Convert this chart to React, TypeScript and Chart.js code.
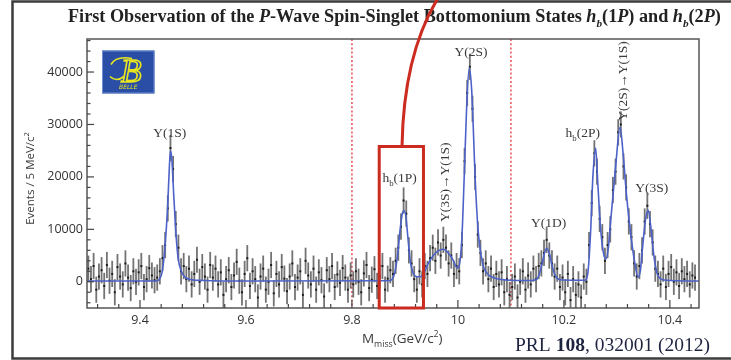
import { useEffect, useRef } from 'react';
import { Chart, registerables } from 'chart.js';

Chart.register(...registerables);

// ---- data (events per 5 MeV bin, in thousands) ----
const BIN_START = 9.3025; // GeV/c^2, centre of first bin
const BIN_WIDTH = 0.005;  // 5 MeV bins
const EVENTS_K = [
  2.5, 0.5, 3.0, -1.5, 1.0, 2.2, -0.8, 3.2, 0.2, 1.5,
  -2.0, 2.8, 1.0, -0.5, 3.5, 0.8, -1.2, 2.0, 0.0, 1.8,
  3.0, -1.0, 0.5, 2.6, 1.2, 0.3, 0.8, 2.0, 4.5, 7.0,
  14.0, 25.5, 21.5, 11.0, 6.5, 2.0, 3.0, 0.5, 2.5, -0.5,
  1.5, 4.2, 0.0, 2.8, 1.0, -1.5, 3.2, 0.8, 2.5, -0.5,
  1.8, -2.5, 0.5, 2.2, -1.0, 1.2, 3.8, 0.2, -2.0, 1.5,
  4.5, -0.8, 2.0, 0.5, -3.0, 1.0, 2.5, -1.5, 0.0, 3.2,
  -2.2, 1.5, -0.5, 2.8, 0.6, -1.8, 1.0, 3.5, -1.0, 0.8,
  2.0, -2.5, 4.0, 1.2, -0.5, 2.5, -1.5, 1.8, 0.3, -2.8,
  2.2, 0.5, 3.0, -1.0, 1.4, -0.2, 2.6, 0.8, -1.5, 1.2,
  -0.5, 2.0, 0.0, -2.0, 1.6, 3.2, -1.2, 0.4, 2.4, -0.8,
  1.0, 3.0, -1.5, 0.6, 2.2, 1.5, 4.0, 6.5, 10.5, 15.5,
  13.0, 6.0, 3.5, 0.5, -1.5, 2.0, -0.5, 3.0, 1.5, 4.5,
  6.5, 4.0, 7.5, 5.0, 8.0, 6.5, 3.5, 5.0, 1.5, 3.0,
  2.0, 7.0, 23.0, 36.0, 41.0, 33.0, 20.0, 9.0, 5.5, 2.0,
  3.5, 0.5, 2.5, -1.0, 1.5, -0.5, 1.8, -2.0, 0.5, -2.5,
  -1.0, 1.0, -3.0, 0.0, 2.0, -1.5, 1.2, -0.5, 2.5, 0.5,
  3.0, 3.5, 5.5, 8.0, 5.0, 3.5, 1.0, 2.5, -1.0, 0.8,
  -2.0, 1.5, -3.5, 0.5, -2.5, -0.5, -3.0, 1.0, 0.0, 7.0,
  15.0, 24.5, 21.0, 12.0, 8.5, 4.0, 7.0, 10.0, 17.5, 21.0,
  28.5, 30.0, 22.0, 18.0, 11.5, 8.5, 3.5, 1.0, 3.0, 6.0,
  11.5, 14.5, 11.0, 7.5, 2.5, 1.5, -0.5, 2.5, -1.0, 1.5,
  2.8, 0.0, 1.8, -0.8, 2.0, 0.5, 1.5, -0.5, 1.2, 0.8,
];
const ERROR_K = 2.5; // statistical error bar half-length, thousands

// fit curve
const FIT_MASS = [
  9.300, 9.430, 9.437, 9.442, 9.447, 9.452, 9.4555, 9.4575, 9.460, 9.464,
  9.468, 9.472, 9.478, 9.485, 9.495, 9.520, 9.600, 9.870, 9.876, 9.881,
  9.886, 9.891, 9.8955, 9.8985, 9.902, 9.906, 9.910, 9.915, 9.921, 9.929,
  9.937, 9.944, 9.957, 9.973, 9.989, 9.9995, 10.004, 10.0076, 10.0119, 10.017,
  10.0215, 10.026, 10.033, 10.038, 10.0466, 10.055, 10.0706, 10.090, 10.140, 10.149,
  10.154, 10.159, 10.1635, 10.168, 10.1725, 10.177, 10.182, 10.187, 10.197, 10.240,
  10.245, 10.2503, 10.2547, 10.260, 10.264, 10.269, 10.2745, 10.279, 10.284, 10.288,
  10.2977, 10.306, 10.3122, 10.3185, 10.326, 10.334, 10.340, 10.3445, 10.348, 10.354,
  10.359, 10.364, 10.370, 10.377, 10.389, 10.455,
];
const FIT_EVENTS_K = [
  0.15, 0.15, 0.5, 2.0, 6.5, 14.0, 22.0, 25.0, 23.5, 16.0,
  9.0, 4.5, 2.0, 0.9, 0.45, 0.25, 0.15, 0.2, 0.5, 1.8,
  5.0, 10.0, 13.2, 13.6, 12.3, 8.0, 4.0, 1.8, 1.0, 0.95,
  1.9, 3.5, 5.4, 6.2, 4.5, 2.6, 4.0, 8.6, 20.0, 34.7,
  40.8, 36.5, 18.8, 10.0, 3.5, 1.6, 0.65, 0.35, 0.25, 0.5,
  1.6, 3.5, 5.5, 6.4, 5.4, 3.4, 1.6, 0.7, 0.35, 0.3,
  1.5, 9.2, 20.0, 25.5, 18.8, 10.5, 5.6, 4.3, 6.5, 11.2,
  22.0, 29.5, 23.9, 16.2, 9.2, 3.5, 0.9, 2.2, 6.0, 11.8,
  13.7, 10.5, 4.8, 1.3, 0.35, 0.15,
];

const X_MIN = 9.3;
const X_MAX = 10.455;
const Y_MIN = -5000;
const Y_MAX = 46300;
const X_TICKS = [9.4, 9.6, 9.8, 10.0, 10.2, 10.4];
const X_TICK_LABELS = ['9.4', '9.6', '9.8', '10', '10.2', '10.4'];
const Y_TICKS = [0, 10000, 20000, 30000, 40000];
const Y_TICK_LABELS = ['0', '10000', '20000', '30000', '40000'];

const WINDOW_LINES = [9.8, 10.1];
const HB1P_BOX = { x0: 9.8515, x1: 9.935, yTop: 25800, anchor: 9.8945 };

const LABEL_TEXT = ['Υ(1S)', 'h_b(1P)', 'Υ(3S)→Υ(1S)', 'Υ(2S)', 'Υ(1D)', 'h_b(2P)', 'Υ(2S)→Υ(1S)', 'Υ(3S)'];
const LABEL_MASS = [9.456, 9.890, 9.974, 10.0246, 10.171, 10.2356, 10.310, 10.366];
const LABEL_EVENTS = [28500, 19800, 19000, 43900, 11300, 28500, 38300, 18000];
const LABEL_VERTICAL = [false, false, true, false, false, false, true, false];

const TITLE_PARTS: [string, string][] = [
  ['First Observation of the ', 'b'], ['P', 'bi'], ['-Wave Spin-Singlet Bottomonium States ', 'b'],
  ['h', 'bi'], ['b', 'sub'], ['(1', 'b'], ['P', 'bi'], [') and ', 'b'],
  ['h', 'bi'], ['b', 'sub'], ['(2', 'b'], ['P', 'bi'], [')', 'b'],
];
const REF_PARTS: [string, string][] = [['PRL ', 'n'], ['108', 'b'], [', 032001 (2012)', 'n']];

// ---- rich text helpers ----
type Seg = { t: string; m: 'n' | 'sub' | 'sup' };
function parseRich(s: string): Seg[] {
  const segs: Seg[] = [];
  let buf = '';
  let i = 0;
  while (i < s.length) {
    const c = s[i];
    if (c === '_' || c === '^') {
      if (buf) { segs.push({ t: buf, m: 'n' }); buf = ''; }
      let t = '';
      if (s[i + 1] === '{') { const j = s.indexOf('}', i + 2); t = s.slice(i + 2, j); i = j + 1; }
      else { t = s[i + 1]; i += 2; }
      segs.push({ t, m: c === '_' ? 'sub' : 'sup' });
    } else { buf += c; i++; }
  }
  if (buf) segs.push({ t: buf, m: 'n' });
  return segs;
}

function drawRich(ctx: CanvasRenderingContext2D, s: string, x: number, base: number,
  o: { size: number; family: string; color: string; align: 'left' | 'center' | 'right' }) {
  const segs = parseRich(s);
  const fontFor = (m: string) => `${m === 'n' ? o.size : o.size * 0.65}px ${o.family}`;
  let total = 0;
  const widths = segs.map((sg) => { ctx.font = fontFor(sg.m); const w = ctx.measureText(sg.t).width; total += w; return w; });
  let cx = o.align === 'center' ? x - total / 2 : o.align === 'right' ? x - total : x;
  ctx.fillStyle = o.color;
  ctx.textAlign = 'left';
  ctx.textBaseline = 'alphabetic';
  segs.forEach((sg, k) => {
    ctx.font = fontFor(sg.m);
    const dy = sg.m === 'sub' ? o.size * 0.28 : sg.m === 'sup' ? -o.size * 0.42 : 0;
    ctx.fillText(sg.t, cx, base + dy);
    cx += widths[k];
  });
}

function drawParts(ctx: CanvasRenderingContext2D, parts: [string, string][], x0: number, x1: number, base: number,
  family: string, refSize: number, color: string) {
  const fontFor = (st: string, size: number) => {
    if (st === 'b') return `bold ${size}px ${family}`;
    if (st === 'bi') return `italic bold ${size}px ${family}`;
    if (st === 'sub') return `italic bold ${size * 0.62}px ${family}`;
    return `${size}px ${family}`;
  };
  const measure = (size: number) => parts.reduce((acc, [t, st]) => { ctx.font = fontFor(st, size); return acc + ctx.measureText(t).width; }, 0);
  const size = refSize * (x1 - x0) / measure(refSize);
  let cx = x0;
  ctx.fillStyle = color;
  ctx.textAlign = 'left';
  ctx.textBaseline = 'alphabetic';
  parts.forEach(([t, st]) => {
    ctx.font = fontFor(st, size);
    ctx.fillText(t, cx, base + (st === 'sub' ? size * 0.25 : 0));
    cx += ctx.measureText(t).width;
  });
}

const decorPlugin = {
  id: 'decor',
  beforeDatasetsDraw(chart: any) {
    const { ctx, chartArea: a, scales: { x, y } } = chart;
    ctx.save();
    // signal window dotted lines
    ctx.strokeStyle = '#e8585c';
    ctx.lineWidth = 1.6;
    ctx.setLineDash([2, 2.2]);
    WINDOW_LINES.forEach((m) => {
      const px = x.getPixelForValue(m);
      ctx.beginPath(); ctx.moveTo(px, a.top); ctx.lineTo(px, a.bottom); ctx.stroke();
    });
    ctx.setLineDash([]);
    // error bars
    ctx.strokeStyle = 'rgba(80,80,80,0.8)';
    ctx.lineWidth = 1.8;
    EVENTS_K.forEach((v, i) => {
      const px = x.getPixelForValue(BIN_START + i * BIN_WIDTH);
      const t = Math.max(y.getPixelForValue((v + ERROR_K) * 1000), a.top);
      const b = Math.min(y.getPixelForValue((v - ERROR_K) * 1000), a.bottom);
      ctx.beginPath(); ctx.moveTo(px, t); ctx.lineTo(px, b); ctx.stroke();
    });
    ctx.restore();
  },
  afterDatasetsDraw(chart: any) {
    const { ctx, chartArea: a, scales: { x, y } } = chart;
    ctx.save();
    // frame
    ctx.strokeStyle = '#555';
    ctx.lineWidth = 1.5;
    ctx.strokeRect(a.left, a.top, a.right - a.left, a.bottom - a.top);
    // ticks
    ctx.lineWidth = 1.2;
    ctx.strokeStyle = '#444';
    for (let k = 0; ; k++) {
      const v = 9.32 + k * 0.04;
      if (v > X_MAX) break;
      const major = X_TICKS.some((t) => Math.abs(t - v) < 1e-6);
      const px = x.getPixelForValue(v);
      ctx.beginPath(); ctx.moveTo(px, a.bottom); ctx.lineTo(px, a.bottom - (major ? 8 : 4)); ctx.stroke();
    }
    for (let k = 0; ; k++) {
      const v = -4000 + k * 2000;
      if (v > Y_MAX) break;
      const major = Y_TICKS.includes(v);
      const py = y.getPixelForValue(v);
      ctx.beginPath(); ctx.moveTo(a.left, py); ctx.lineTo(a.left + (major ? 7 : 3.5), py); ctx.stroke();
    }
    // peak labels
    const lsize = 13.5;
    LABEL_TEXT.forEach((t, i) => {
      const px = x.getPixelForValue(LABEL_MASS[i]);
      const py = y.getPixelForValue(LABEL_EVENTS[i]);
      const opts = { size: lsize, family: '"Liberation Serif", serif', color: '#3a3a3a', align: 'center' as const };
      if (LABEL_VERTICAL[i]) {
        ctx.save(); ctx.translate(px, py); ctx.rotate(-Math.PI / 2);
        drawRich(ctx, t, 0, lsize * 0.33, opts);
        ctx.restore();
      } else {
        drawRich(ctx, t, px, py + lsize * 0.33, opts);
      }
    });
    // axis titles
    ctx.save();
    ctx.translate(30, (a.top + a.bottom) / 2 + 5);
    ctx.rotate(-Math.PI / 2);
    drawRich(ctx, 'Events / 5 MeV/c^2', 0, 4, { size: 11.5, family: '"Open Sans", sans-serif', color: '#3a3a3a', align: 'center' });
    ctx.restore();
    drawRich(ctx, 'M_{miss}(GeV/c^2)', x.getPixelForValue(9.895), 343, { size: 13.5, family: '"Open Sans", sans-serif', color: '#3a3a3a', align: 'center' });
    // Belle logo
    const lx = a.left + 15, ly = a.top + 11.5, lw = 52.5, lh = 43;
    ctx.fillStyle = '#2a4ea6';
    ctx.fillRect(lx, ly, lw, lh);
    ctx.strokeStyle = '#6f8fd0';
    ctx.lineWidth = 1;
    ctx.strokeRect(lx + 0.5, ly + 0.5, lw - 1, lh - 1);
    ctx.strokeStyle = '#e9e61f';
    ctx.fillStyle = '#e9e61f';
    ctx.lineWidth = 1.6;
    ctx.font = 'italic 34px "Liberation Serif", serif';
    ctx.textAlign = 'center';
    ctx.textBaseline = 'alphabetic';
    ctx.strokeText('B', lx + lw / 2 + 3, ly + 31);
    ctx.beginPath();
    ctx.moveTo(lx + 9, ly + 14);
    ctx.quadraticCurveTo(lx + 14, ly + 5, lx + 30, ly + 8);
    ctx.stroke();
    ctx.beginPath();
    ctx.moveTo(lx + 8, ly + 26);
    ctx.quadraticCurveTo(lx + 14, ly + 32, lx + 22, ly + 26);
    ctx.stroke();
    ctx.font = 'italic 6px "DejaVu Sans", sans-serif';
    ctx.fillText('BELLE', lx + lw / 2, ly + 38);
    // main title
    drawParts(ctx, TITLE_PARTS, 68, 721, 22, '"Liberation Serif", serif', 16, '#222');
    // reference
    drawParts(ctx, REF_PARTS, 515, 710, 351, '"Liberation Serif", serif', 18, '#1e2440');
    // outer frame of the slide
    ctx.strokeStyle = '#3c3c3c';
    ctx.lineWidth = 2.5;
    ctx.beginPath();
    ctx.moveTo(731, 1.5); ctx.lineTo(12.5, 1.5); ctx.lineTo(12.5, 358.5); ctx.lineTo(731, 358.5);
    ctx.stroke();
    // h_b(1P) highlight box and connector
    const bx0 = x.getPixelForValue(HB1P_BOX.x0);
    const bx1 = x.getPixelForValue(HB1P_BOX.x1);
    const byT = y.getPixelForValue(HB1P_BOX.yTop);
    ctx.strokeStyle = '#cc2b20';
    ctx.lineWidth = 3;
    ctx.strokeRect(bx0, byT, bx1 - bx0, a.bottom - byT);
    const sx = x.getPixelForValue(HB1P_BOX.anchor);
    ctx.beginPath();
    ctx.moveTo(sx, byT);
    ctx.quadraticCurveTo(sx + 1.5, byT - 92, sx + 36, -2);
    ctx.stroke();
    ctx.restore();
  },
};

export default function App() {
  const ref = useRef<HTMLCanvasElement>(null);
  useEffect(() => {
    if (!ref.current) return;
    const chart = new Chart(ref.current, {
      type: 'scatter',
      data: {
        datasets: [
          {
            type: 'line',
            label: 'fit',
            data: FIT_MASS.map((m, i) => ({ x: m, y: FIT_EVENTS_K[i] * 1000 })),
            borderColor: '#4d62c8',
            borderWidth: 1.6,
            pointRadius: 0,
            cubicInterpolationMode: 'monotone',
            fill: false,
            order: 0,
          } as any,
          {
            type: 'scatter',
            label: 'data',
            data: EVENTS_K.map((v, i) => ({ x: BIN_START + i * BIN_WIDTH, y: v * 1000 })),
            pointStyle: 'rect',
            pointRadius: 1.4,
            backgroundColor: '#1c1c1c',
            borderWidth: 0,
            order: 1,
          } as any,
        ],
      },
      options: {
        responsive: false,
        devicePixelRatio: 1,
        animation: false,
        layout: { padding: { top: 39, right: 32, left: 0, bottom: 0 } },
        plugins: { legend: { display: false }, tooltip: { enabled: false } },
        scales: {
          x: {
            type: 'linear',
            min: X_MIN,
            max: X_MAX,
            grid: { display: false, drawTicks: false },
            border: { display: false },
            afterBuildTicks: (s: any) => { s.ticks = X_TICKS.map((v) => ({ value: v })); },
            afterFit: (s: any) => { s.height = 52; },
            ticks: {
              padding: 5,
              maxRotation: 0,
              autoSkip: false,
              color: '#333',
              font: { family: '"Open Sans", sans-serif', size: 12.5 },
              callback: (v: any) => {
                const i = X_TICKS.findIndex((t) => Math.abs(t - Number(v)) < 1e-6);
                return i >= 0 ? X_TICK_LABELS[i] : '';
              },
            },
          },
          y: {
            type: 'linear',
            min: Y_MIN,
            max: Y_MAX,
            grid: { display: false, drawTicks: false },
            border: { display: false },
            afterBuildTicks: (s: any) => { s.ticks = Y_TICKS.map((v) => ({ value: v })); },
            afterFit: (s: any) => { s.width = 87; },
            ticks: {
              padding: 4,
              autoSkip: false,
              color: '#333',
              font: { family: '"Open Sans", sans-serif', size: 12.5 },
              callback: (v: any) => {
                const i = Y_TICKS.indexOf(Number(v));
                return i >= 0 ? Y_TICK_LABELS[i] : '';
              },
            },
          },
        },
      },
      plugins: [decorPlugin],
    });
    return () => chart.destroy();
  }, []);
  return (
    <div style={{ position: 'absolute', left: 0, top: 0, width: 731, height: 360, background: '#fff' }}>
      <canvas ref={ref} width={731} height={360} style={{ display: 'block' }} />
    </div>
  );
}
